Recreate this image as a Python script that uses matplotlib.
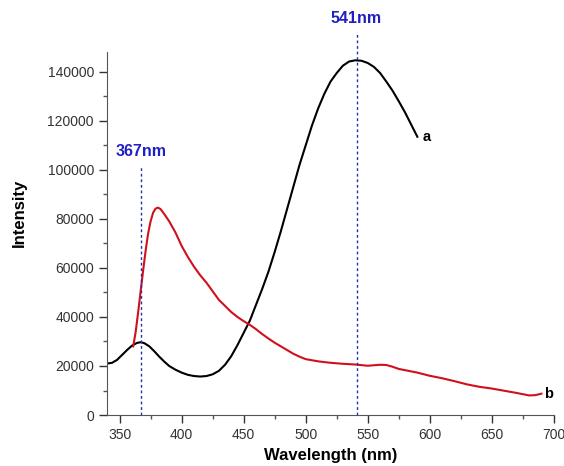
import matplotlib
matplotlib.use("Agg")
import matplotlib.pyplot as plt
from matplotlib.ticker import MultipleLocator

plt.rcParams["font.family"] = ["Liberation Sans", "DejaVu Sans"]

# curve a (black)
wl_a = [340, 344, 348, 352, 356, 360, 364, 367, 370, 374, 378, 382, 386, 390,
        395, 400, 405, 410, 415, 420, 425, 430, 435, 440, 445, 450, 455, 460,
        465, 470, 475, 480, 485, 490, 495, 500, 505, 510, 515, 520, 525, 530,
        535, 540, 545, 550, 555, 560, 565, 570, 575, 580, 585, 590]
int_a = [21000, 21300, 22500, 24500, 26500, 28300, 29400, 29700, 29300, 28000,
         26000, 23800, 21800, 20000, 18500, 17300, 16400, 15900, 15700, 15900,
         16600, 18000, 20500, 24000, 28500, 33500, 38500, 45000, 51500, 58500,
         66500, 75000, 84000, 93000, 102000, 110000, 118000, 125000, 131000,
         136000, 139500, 142500, 144200, 144700, 144500, 143600, 142000, 139500,
         136000, 132300, 128000, 123500, 118500, 113500]

# curve b (red)
wl_b = [361, 363, 365, 367, 369, 371, 373, 375, 377, 379, 381, 383, 386, 390,
        395, 400, 405, 410, 415, 420, 425, 430, 435, 440, 445, 450, 455, 460,
        465, 470, 475, 480, 485, 490, 495, 500, 510, 520, 530, 540, 550, 555,
        560, 565, 570, 575, 580, 590, 600, 610, 620, 630, 640, 650, 660, 670,
        680, 685, 690]
int_b = [28000, 34000, 42000, 50600, 59000, 67000, 74000, 79000, 82500, 84200,
         84600, 84000, 82000, 79000, 74500, 69000, 64500, 60500, 57000, 54000,
         50500, 47000, 44500, 42000, 40000, 38300, 36800, 35000, 33000, 31200,
         29500, 28000, 26500, 25000, 23800, 22800, 21900, 21300, 20900, 20600,
         20100, 20300, 20500, 20400, 19700, 18800, 18300, 17300, 16000, 15000,
         13800, 12500, 11500, 10800, 9900, 9000, 8000, 8100, 8700]

peaks = [367, 541]
peak_tops = [102000, 156000]

fig = plt.figure(figsize=(5.64, 4.66), dpi=100)
ax = fig.add_axes([0.19, 0.1094, 0.792, 0.7786])

ax.plot(wl_a, int_a, color="black", lw=1.5)
ax.plot(wl_b, int_b, color="#d0101c", lw=1.5)

for p, top in zip(peaks, peak_tops):
    ax.plot([p, p], [0, top], color="#2030b0", lw=1, ls=(0, (2, 2)), clip_on=False)
    ax.text(p, top + 2500, f"{p}nm", color="#2020c0", fontsize=11.5,
            fontweight="bold", ha="center", va="bottom")

ax.text(wl_a[-1] + 4, int_a[-1], "a", fontsize=10.5, fontweight="bold", va="center")
ax.text(wl_b[-1] + 2, int_b[-1], "b", fontsize=10.5, fontweight="bold", va="center")

ax.set_xlim(340, 700)
ax.set_ylim(0, 148000)
ax.xaxis.set_major_locator(MultipleLocator(50))
ax.xaxis.set_minor_locator(MultipleLocator(25))
ax.yaxis.set_major_locator(MultipleLocator(20000))
ax.yaxis.set_minor_locator(MultipleLocator(10000))
ax.tick_params(which="major", length=6, width=1, labelsize=10, colors="#333333")
ax.tick_params(which="minor", length=3, width=1, colors="#555555")
for s in ["top", "right"]:
    ax.spines[s].set_visible(False)
for s in ["left", "bottom"]:
    ax.spines[s].set_color("#555555")

ax.set_xlabel("Wavelength (nm)", fontsize=12, fontweight="bold", labelpad=4)
ax.set_ylabel("Intensity", fontsize=12, fontweight="bold")
ax.yaxis.set_label_coords(-0.18, 0.556)

fig.savefig("out.png", dpi=100)
